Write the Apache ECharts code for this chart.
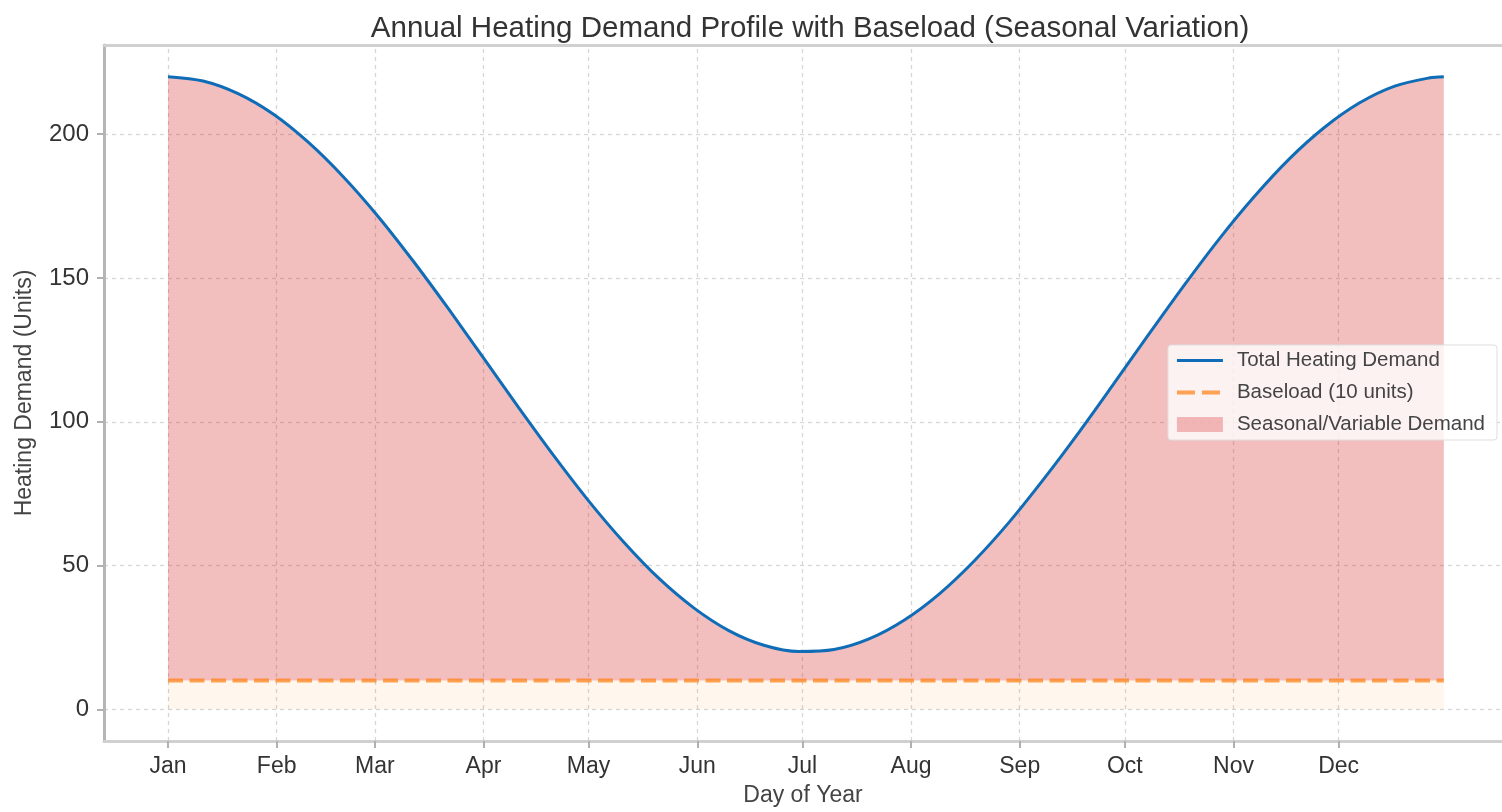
<!DOCTYPE html>
<html>
<head>
<meta charset="utf-8">
<script src="https://cdn.jsdelivr.net/npm/echarts@6/dist/echarts.min.js"></script>
<style>
  html, body { margin: 0; padding: 0; background: #fff; }
  #chart { width: 1502px; height: 812px; }
</style>
</head>
<body>
<div id="chart"></div>
<script>
// values (day of year -> demand)
var days = [1, 11, 21, 31, 41, 51, 61, 71, 81, 91, 101, 111, 121, 131, 141, 151, 161, 171, 181,
            191, 201, 211, 221, 231, 241, 251, 261, 271, 281, 291, 301, 311, 321, 331, 341, 351, 361, 365];
var totalDemand = [220, 218.5, 214.1, 207.0, 197.2, 185.2, 171.3, 155.8, 139.3, 122.2, 105.0, 88.3, 72.5, 58.2, 45.6, 35.3, 27.4, 22.3, 20.1,
                   20.8, 24.5, 31.0, 40.1, 51.6, 65.1, 80.3, 96.5, 113.5, 130.7, 147.6, 163.7, 178.4, 191.5, 202.4, 210.9, 216.7, 219.6, 220];
var baseload = 10;
var monthDays = [1, 32, 60, 91, 121, 152, 182, 213, 244, 274, 305, 335];
var monthLabels = ['Jan', 'Feb', 'Mar', 'Apr', 'May', 'Jun', 'Jul', 'Aug', 'Sep', 'Oct', 'Nov', 'Dec'];
var yTicks = [0, 50, 100, 150, 200];

var font = 'Liberation Sans';

var totalData = days.map(function (d, i) { return [d, totalDemand[i]]; });
var baseData = [[days[0], baseload], [days[days.length - 1], baseload]];

var xMin = -17.26, xMax = 381.6;

var myChart = echarts.init(document.getElementById('chart'));
var option = {
    animation: false,
    title: {
        text: 'Annual Heating Demand Profile with Baseload (Seasonal Variation)',
        left: 805,
        textAlign: 'center',
        top: 9,
        textStyle: { fontFamily: font, fontSize: 29.5, fontWeight: 'normal', color: '#333' }
    },
    grid: {
        left: 104, top: 45, right: 0, height: 698,
        show: false
    },
    legend: {
        right: 5, top: 345,
        orient: 'vertical',
        itemWidth: 46, itemHeight: 15, itemGap: 11,
        padding: [5, 12, 5, 7],
        backgroundColor: 'rgba(255,255,255,0.8)',
        borderColor: '#dddddd', borderWidth: 1, borderRadius: 3,
        textStyle: { fontFamily: font, fontSize: 20.5, color: '#444', padding: [0, 0, 0, 9] },
        data: [
            { name: 'Total Heating Demand', itemStyle: { opacity: 0 }, lineStyle: { width: 3 } },
            { name: 'Baseload (10 units)', itemStyle: { opacity: 0 }, lineStyle: { width: 4, type: [18, 7] } },
            { name: 'Seasonal/Variable Demand', icon: 'rect' }
        ]
    },
    xAxis: [{
        type: 'value',
        min: xMin, max: xMax,
        name: 'Day of Year',
        nameLocation: 'middle', nameGap: 43,
        nameTextStyle: { fontFamily: font, fontSize: 23, color: '#444' },
        axisLine: { show: true, onZero: false, lineStyle: { color: '#d0d0d0', width: 3 } },
        axisTick: { show: true, customValues: monthDays, length: 7, lineStyle: { color: '#b0b0b0', width: 2 } },
        axisLabel: {
            customValues: monthDays,
            formatter: function (v) { return monthLabels[monthDays.indexOf(v)]; },
            margin: 14, fontFamily: font, fontSize: 23, color: '#333'
        },
        splitLine: { show: false }
    }, {
        // top spine
        type: 'value', position: 'top',
        min: xMin, max: xMax,
        axisLine: { show: true, onZero: false, lineStyle: { color: '#d0d0d0', width: 3 } },
        axisTick: { show: false }, axisLabel: { show: false }, splitLine: { show: false }
    }],
    yAxis: {
        type: 'value',
        min: -11, max: 231,
        name: 'Heating Demand (Units)',
        nameLocation: 'middle', nameGap: 68, nameRotate: 90,
        nameTextStyle: { fontFamily: font, fontSize: 23, color: '#444' },
        axisLine: { show: true, onZero: false, lineStyle: { color: '#b5b5b5', width: 3 } },
        axisTick: { show: true, customValues: yTicks, length: 7, lineStyle: { color: '#b0b0b0', width: 2 } },
        axisLabel: { customValues: yTicks, margin: 15, fontFamily: font, fontSize: 24, color: '#333' },
        splitLine: { show: false }
    },
    series: [
        {
            name: 'gridLines',
            type: 'line',
            data: [],
            z: 0,
            markLine: {
                z: 0, silent: true, symbol: 'none', label: { show: false },
                lineStyle: { color: '#d6d6d6', width: 1.3, type: [4, 4] },
                data: monthDays.map(function (d) { return { xAxis: d }; })
                    .concat(yTicks.map(function (v) { return { yAxis: v }; }))
            }
        },
        {
            name: 'baseFill',
            type: 'line',
            data: baseData,
            symbol: 'none',
            lineStyle: { width: 0 },
            areaStyle: { origin: 0, color: 'rgba(255,127,14,0.1)' },
            silent: true,
            z: 1
        },
        {
            name: 'Seasonal/Variable Demand',
            type: 'line',
            data: totalData,
            smooth: 0.3,
            symbol: 'none',
            lineStyle: { width: 0 },
            itemStyle: { color: 'rgba(214,39,40,0.3)' },
            areaStyle: { origin: baseload, color: 'rgba(214,39,40,0.3)', opacity: 1 },
            z: 2
        },
        {
            name: 'Baseload (10 units)',
            type: 'line',
            data: baseData,
            symbol: 'none',
            lineStyle: { color: 'rgba(255,127,14,0.7)', width: 4, type: [15, 6.5] },
            itemStyle: { color: 'rgba(255,127,14,0.7)' },
            z: 3
        },
        {
            name: 'Total Heating Demand',
            type: 'line',
            data: totalData,
            smooth: 0.3,
            symbol: 'none',
            lineStyle: { color: '#0f6db8', width: 3 },
            itemStyle: { color: '#0f6db8' },
            z: 4
        }
    ]
};
myChart.setOption(option);
</script>
</body>
</html>
